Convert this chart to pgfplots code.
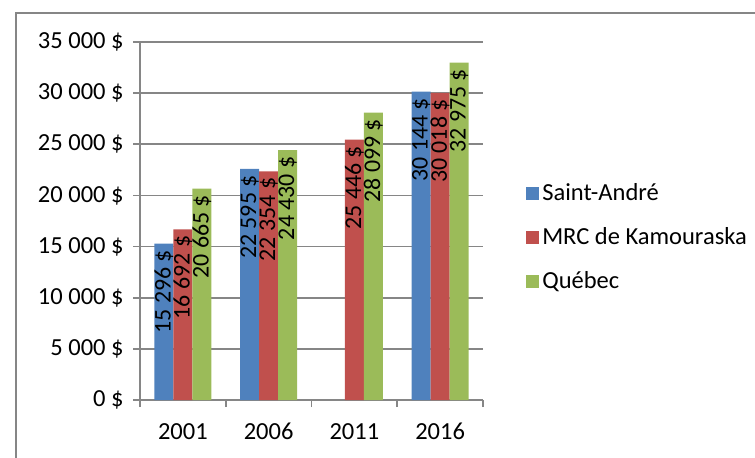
\documentclass[border=0pt]{standalone}
\usepackage{pgfplots}
\pgfplotsset{compat=1.18}
\usepackage{fontspec}
\setmainfont{Carlito}
\definecolor{sa}{HTML}{4F81BD}
\definecolor{mrc}{HTML}{C0504D}
\definecolor{qc}{HTML}{9BBB59}
\definecolor{gridgray}{HTML}{868686}
\begin{document}
\begin{tikzpicture}
\useasboundingbox (0,0) rectangle (377.5bp,229bp);
\draw[color=gridgray, line width=1bp] (8bp,-5bp) rectangle (382bp,222.5bp);
\begin{axis}[
  at={(70bp,29bp)}, anchor=south west,
  scale only axis, width=171.5bp, height=179bp,
  xmin=-0.5, xmax=3.5, ymin=0, ymax=35000,
  scaled y ticks=false,
  ybar=0pt, bar width=9.5bp,
  axis x line*=bottom, axis y line*=left,
  axis line style={-, draw=gridgray, line width=0.8bp},
  ytick={0,5000,10000,15000,20000,25000,30000,35000},
  yticklabels={0 \$,5 000 \$,10 000 \$,15 000 \$,20 000 \$,25 000 \$,30 000 \$,35 000 \$},
  ymajorgrids, grid style={gridgray, line width=0.8bp},
  xtick={0,1,2,3}, xticklabels={2001,2006,2011,2016},
  minor xtick={-0.5,0.5,1.5,2.5,3.5},
  tick align=outside, major tick length=3.5bp, minor tick length=3.5bp,
  tick style={gridgray, line width=0.8bp},
  major x tick style={draw=none},
  ticklabel style={font=\fontsize{12.3}{14}\selectfont},
  yticklabel style={inner sep=0pt, xshift=-4.5bp},
  xticklabel style={inner sep=0pt, yshift=-8bp},
  clip=false,
  nodes near coords={\pgfmathprintnumber[fixed, precision=0, 1000 sep={\ }, assume math mode=true]{\pgfplotspointmeta}~\$},
  every node near coord/.append style={rotate=90, anchor=east, font=\fontsize{12}{14}\selectfont, inner sep=3bp, black},
  legend style={at={(1.125,0.454)}, anchor=west, draw=none, fill=none,
    font=\fontsize{12.3}{14}\selectfont, row sep=9bp, inner sep=0pt,
    nodes={inner sep=1.5bp}},
  legend cell align=left,
  legend image code/.code={\fill[#1] (0bp,-3.25bp) rectangle (6.5bp,3.25bp);},
]
\addplot[fill=sa, draw=none] coordinates {(0,15296) (1,22595) (3,30144)};
\addplot[fill=mrc, draw=none] coordinates {(0,16692) (1,22354) (2,25446) (3,30018)};
\addplot[fill=qc, draw=none] coordinates {(0,20665) (1,24430) (2,28099) (3,32975)};
\legend{Saint-André, MRC de Kamouraska, Québec}
\end{axis}
\end{tikzpicture}
\end{document}
